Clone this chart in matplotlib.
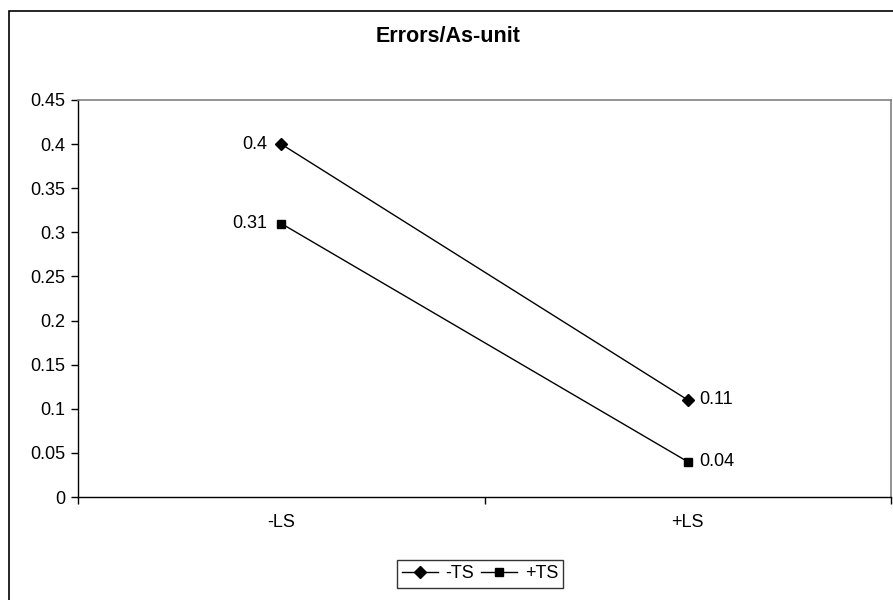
import matplotlib.pyplot as plt
from matplotlib.patches import Rectangle

plt.rcParams['font.family'] = ['Liberation Sans', 'DejaVu Sans']

# data
categories = ['-LS', '+LS']
minus_ts = [0.4, 0.11]
plus_ts = [0.31, 0.04]
series_names = ['-TS', '+TS']

W, H = 893, 600
fig = plt.figure(figsize=(W / 100, H / 100), dpi=100)

# outer chart border (only left and top visible in reference)
fig.patches.append(Rectangle((9 / W, 0 - 0.02), 1.2, 1 - 10.5 / H + 0.02,
                             transform=fig.transFigure, fill=False,
                             edgecolor='black', linewidth=1.2))

ax = fig.add_axes([78 / W, 1 - 497 / H, (891 - 78) / W, (497 - 100) / H])
x = list(range(len(categories)))

ax.plot(x, minus_ts, color='black', lw=1, marker='D', ms=6, label=series_names[0])
ax.plot(x, plus_ts, color='black', lw=1, marker='s', ms=6, label=series_names[1])

fs = 13
# data labels
ax.annotate(str(minus_ts[0]), (x[0], minus_ts[0]), xytext=(-10, 0), textcoords='offset points',
            ha='right', va='center', fontsize=fs)
ax.annotate(str(plus_ts[0]), (x[0], plus_ts[0]), xytext=(-10, 0), textcoords='offset points',
            ha='right', va='center', fontsize=fs)
ax.annotate(str(minus_ts[1]), (x[1], minus_ts[1]), xytext=(8, 0), textcoords='offset points',
            ha='left', va='center', fontsize=fs)
ax.annotate(str(plus_ts[1]), (x[1], plus_ts[1]), xytext=(8, 0), textcoords='offset points',
            ha='left', va='center', fontsize=fs)

ax.set_xlim(-0.5, 1.5)
ax.set_ylim(0, 0.45)
ax.set_yticks([i * 0.05 for i in range(10)])
ax.set_yticklabels(['0', '0.05', '0.1', '0.15', '0.2', '0.25', '0.3', '0.35', '0.4', '0.45'])
ax.set_xticks(x)
ax.set_xticklabels(categories)
ax.set_xticks([-0.5, 0.5, 1.5], minor=True)
ax.tick_params(axis='x', which='major', length=0, pad=12, labelsize=fs)
ax.tick_params(axis='x', which='minor', length=5, direction='out', width=1)
ax.tick_params(axis='y', length=5, direction='out', width=1, labelsize=fs, pad=4)

for s in ['top', 'right']:
    ax.spines[s].set_color('#808080')
    ax.spines[s].set_linewidth(1.2)
for s in ['left', 'bottom']:
    ax.spines[s].set_color('black')
    ax.spines[s].set_linewidth(1)

fig.text(448 / W, 1 - 37 / H, 'Errors/As-unit', ha='center', va='center',
         fontsize=15.5, fontweight='bold')

leg = fig.legend(loc='center', bbox_to_anchor=(480 / W, 1 - 574 / H), ncol=2,
                 fontsize=fs, frameon=True, fancybox=False, handlelength=2.0,
                 handletextpad=0.4, columnspacing=0.4, borderpad=0.3,
                 borderaxespad=0)
leg.get_frame().set_edgecolor('black')
leg.get_frame().set_linewidth(1)

fig.savefig('out.png', dpi=100)
